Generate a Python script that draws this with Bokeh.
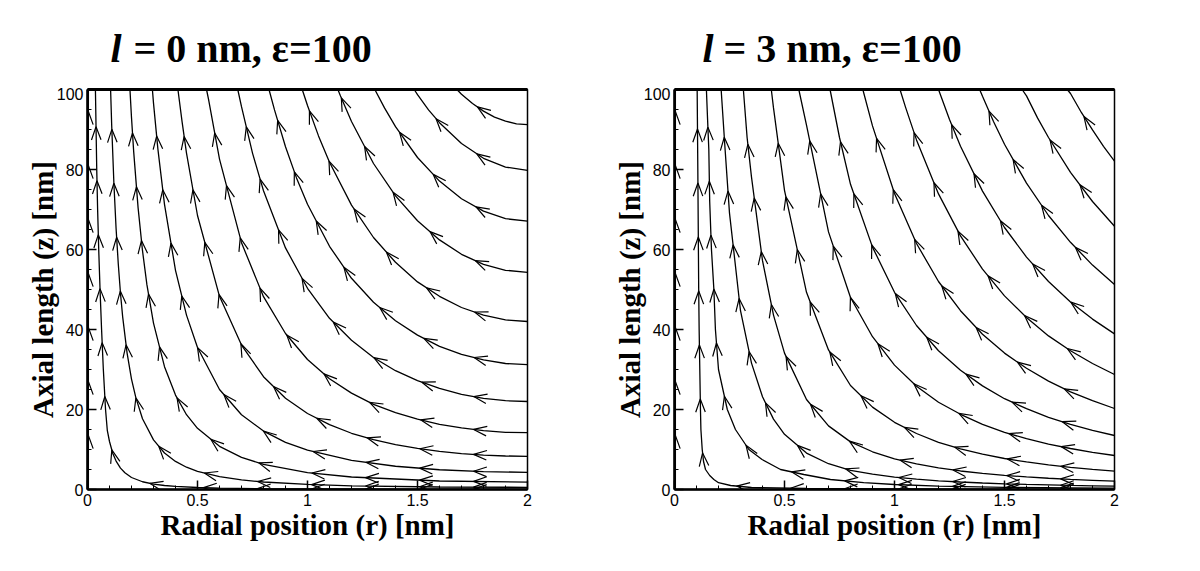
import numpy as np
from bokeh.plotting import figure
from bokeh.models import LinearAxis, FixedTicker, NumeralTickFormatter, Range1d
from bokeh.core.properties import value
from bokeh.layouts import row, column
from bokeh.embed import file_html
from bokeh.resources import INLINE

# ---------------- data ----------------
r_ticks = [0, 0.5, 1, 1.5, 2]
r_minor_ticks = [0.1, 0.2, 0.3, 0.4, 0.6, 0.7, 0.8, 0.9, 1.1, 1.2, 1.3, 1.4, 1.6, 1.7, 1.8, 1.9]
z_ticks = [0, 20, 40, 60, 80, 100]
z_minor_ticks = [5, 10, 15, 25, 30, 35, 45, 50, 55, 65, 70, 75, 85, 90, 95]
slip_lengths = ["0", "3"]
permittivity = "100"
x_label = "Radial position (r) [nm]"
y_label = "Axial length (z) [nm]"

# streamlines of the left panel (l = 0 nm), each listed from its start (wall r=2 / axis bottom) to z=100
left_r = [
    [0.004, 0.004],
    [2.0, 1.5, 1.0, 0.8, 0.6, 0.5, 0.4, 0.35, 0.3, 0.25, 0.2, 0.17, 0.15, 0.13, 0.115, 0.1, 0.09, 0.082, 0.072, 0.064, 0.057, 0.051, 0.046, 0.042, 0.039, 0.036],
    [2.0, 1.6, 1.2, 1.0, 0.8, 0.7, 0.6, 0.5, 0.45, 0.4, 0.35, 0.3, 0.25, 0.22, 0.2, 0.18, 0.16, 0.15, 0.14, 0.13, 0.12, 0.11, 0.105],
    [2.0, 1.6, 1.2, 1.0, 0.8, 0.7, 0.6, 0.5, 0.45, 0.4, 0.35, 0.3, 0.27, 0.25, 0.23, 0.21, 0.2, 0.193],
    [2.0, 1.8, 1.6, 1.4, 1.2, 1.0, 0.9, 0.8, 0.7, 0.6, 0.5, 0.45, 0.4, 0.35, 0.32, 0.3, 0.295],
    [2.0, 1.9, 1.8, 1.7, 1.6, 1.5, 1.4, 1.3, 1.2, 1.1, 1.0, 0.9, 0.8, 0.7, 0.6, 0.5, 0.45, 0.43, 0.411],
    [2.0, 1.9, 1.8, 1.7, 1.6, 1.5, 1.4, 1.3, 1.2, 1.1, 1.0, 0.9, 0.8, 0.7, 0.6, 0.55, 0.541],
    [2.0, 1.9, 1.8, 1.7, 1.6, 1.5, 1.4, 1.3, 1.2, 1.1, 1.0, 0.9, 0.8, 0.75, 0.7, 0.683],
    [2.0, 1.9, 1.8, 1.7, 1.6, 1.5, 1.4, 1.3, 1.2, 1.1, 1.0, 0.95, 0.9, 0.85, 0.825],
    [2.0, 1.9, 1.8, 1.7, 1.6, 1.5, 1.4, 1.3, 1.2, 1.1, 1.05, 1.0, 0.976],
    [2.0, 1.9, 1.8, 1.7, 1.6, 1.5, 1.4, 1.3, 1.2, 1.15, 1.138],
    [2.0, 1.9, 1.8, 1.7, 1.6, 1.5, 1.4, 1.35, 1.306],
    [2.0, 1.9, 1.8, 1.7, 1.6, 1.55, 1.5, 1.485],
    [2.0, 1.95, 1.9, 1.85, 1.8, 1.75, 1.7, 1.679],
]
left_z = [
    [0, 100],
    [0.06, 0.07, 0.14, 0.2, 0.35, 0.5, 0.77, 1.0, 1.35, 1.94, 3.0, 4.2, 5.35, 7.1, 9.0, 12.0, 14.8, 20, 30, 40, 50, 60, 70, 80, 90, 100],
    [0.55, 0.63, 0.93, 1.26, 1.87, 2.39, 3.2, 4.54, 5.57, 7.02, 9.12, 12.4, 17.7, 22.9, 27.6, 34.1, 43.1, 49.0, 56.3, 65.2, 76.5, 91.0, 100],
    [1.85, 2.13, 3.13, 4.23, 6.28, 8.04, 10.8, 15.3, 18.7, 23.6, 30.7, 41.6, 51.2, 59.7, 70.4, 84.4, 93.0, 100],
    [4.3, 4.46, 4.94, 5.81, 7.28, 9.83, 11.8, 14.6, 18.7, 25.0, 35.5, 43.6, 54.8, 71.3, 85.1, 96.6, 100],
    [8.3, 8.38, 8.61, 8.99, 9.54, 10.26, 11.2, 12.45, 14.06, 16.2, 19.0, 22.8, 28.2, 36.1, 48.3, 68.5, 84.1, 91.9, 100],
    [14.2, 14.3, 14.7, 15.4, 16.3, 17.6, 19.2, 21.3, 24.1, 27.7, 32.5, 39.0, 48.2, 61.7, 82.6, 97.6, 100],
    [22.0, 22.2, 22.8, 23.8, 25.3, 27.2, 29.7, 33.0, 37.3, 42.8, 50.3, 60.4, 74.7, 84.1, 95.7, 100],
    [31.2, 31.5, 32.4, 33.8, 35.8, 38.6, 42.2, 46.8, 52.8, 60.8, 71.3, 77.9, 85.7, 94.9, 100],
    [42.0, 42.4, 43.6, 45.5, 48.3, 51.9, 56.8, 63.0, 71.1, 81.8, 88.4, 96.0, 100],
    [54.3, 54.8, 56.3, 58.8, 62.4, 67.2, 73.4, 81.5, 92.0, 98.4, 100],
    [67.1, 67.7, 69.6, 72.7, 77.1, 83.0, 90.7, 95.4, 100],
    [79.8, 80.6, 82.8, 86.5, 91.7, 94.9, 98.7, 100],
    [91.2, 91.4, 92.1, 93.1, 94.6, 96.5, 98.8, 100],
]

# streamlines of the right panel (l = 3 nm)
right_r = [
    [0.004, 0.004],
    [2.0, 1.5, 1.0, 0.6, 0.35, 0.255, 0.2, 0.179, 0.16, 0.141, 0.132, 0.126, 0.12, 0.118, 0.115, 0.112, 0.11, 0.108, 0.106, 0.103],
    [2.0, 1.8, 1.5, 1.2, 1.0, 0.86, 0.709, 0.588, 0.482, 0.398, 0.338, 0.277, 0.24, 0.2, 0.186, 0.179, 0.168, 0.16, 0.156, 0.15, 0.145],
    [2.0, 1.9, 1.8, 1.7, 1.6, 1.5, 1.4, 1.3, 1.2, 1.1, 1.0, 0.9, 0.8, 0.7, 0.6, 0.5, 0.45, 0.4, 0.35, 0.3, 0.25, 0.23, 0.212],
    [2.0, 1.9, 1.8, 1.7, 1.6, 1.5, 1.4, 1.3, 1.2, 1.1, 1.0, 0.9, 0.8, 0.7, 0.6, 0.5, 0.45, 0.4, 0.35, 0.33, 0.313],
    [2.0, 1.9, 1.8, 1.7, 1.6, 1.5, 1.4, 1.3, 1.2, 1.1, 1.0, 0.9, 0.8, 0.7, 0.6, 0.5, 0.45, 0.44],
    [2.0, 1.9, 1.8, 1.7, 1.6, 1.5, 1.4, 1.3, 1.2, 1.1, 1.0, 0.9, 0.8, 0.7, 0.6, 0.565],
    [2.0, 1.9, 1.8, 1.7, 1.6, 1.5, 1.4, 1.3, 1.2, 1.1, 1.0, 0.9, 0.8, 0.75, 0.707],
    [2.0, 1.9, 1.8, 1.7, 1.6, 1.5, 1.4, 1.3, 1.2, 1.1, 1.0, 0.9, 0.856],
    [2.0, 1.9, 1.8, 1.7, 1.6, 1.5, 1.4, 1.3, 1.2, 1.1, 1.05, 1.025],
    [2.0, 1.9, 1.8, 1.7, 1.6, 1.5, 1.4, 1.3, 1.25, 1.2],
    [2.0, 1.9, 1.8, 1.7, 1.6, 1.5, 1.45, 1.4, 1.387],
    [2.0, 1.9, 1.8, 1.7, 1.65, 1.6, 1.58],
    [2.0, 1.95, 1.9, 1.85, 1.8, 1.785],
]
right_z = [
    [0, 100],
    [0.05, 0.07, 0.12, 0.25, 0.5, 1.0, 1.7, 2.5, 3.5, 5.0, 7.0, 10, 15, 20, 30, 40, 50, 65, 80, 100],
    [0.33, 0.4, 0.55, 0.85, 1.25, 1.7, 2.5, 3.75, 5.0, 7.5, 10, 15, 20, 30, 40, 50, 60, 72, 85, 93, 100],
    [0.85, 0.93, 1.02, 1.14, 1.27, 1.43, 1.63, 1.88, 2.18, 2.58, 3.11, 3.82, 4.8, 6.44, 9.1, 13.8, 17.6, 23.2, 31.6, 44.7, 69.1, 85.0, 100],
    [2.1, 2.3, 2.53, 2.81, 3.14, 3.54, 4.03, 4.63, 5.40, 6.38, 7.68, 9.43, 11.9, 15.9, 22.5, 34.1, 43.6, 57.2, 78.1, 88.0, 100],
    [4.6, 5.03, 5.55, 6.15, 6.88, 7.75, 8.82, 10.15, 11.8, 14.0, 16.8, 20.6, 26.0, 34.9, 49.3, 74.8, 95.4, 100],
    [8.5, 9.3, 10.25, 11.37, 12.7, 14.3, 16.3, 18.8, 21.8, 25.8, 31.1, 38.2, 48.0, 64.4, 91.1, 100],
    [13.5, 14.8, 16.3, 18.05, 20.2, 22.7, 25.9, 29.8, 34.7, 41.0, 49.3, 60.6, 76.3, 88.0, 100],
    [20.25, 22.2, 24.4, 27.1, 30.3, 34.1, 38.8, 44.7, 52.0, 61.5, 74.0, 90.9, 100],
    [28.75, 31.5, 34.7, 38.4, 43.0, 48.4, 55.1, 63.4, 73.9, 87.4, 95.6, 100],
    [38.9, 42.6, 46.9, 52.0, 58.1, 65.5, 74.6, 85.8, 92.5, 100],
    [51.25, 56.1, 61.8, 68.5, 76.6, 86.3, 92.0, 98.3, 100],
    [65.8, 72.0, 79.3, 88.0, 92.9, 98.4, 100],
    [82.1, 85.8, 89.9, 94.2, 99.0, 100],
]

# ---------------- layout constants ----------------
FW, FH = 440, 400
SX = FW / (r_ticks[-1] - r_ticks[0])
SY = FH / (z_ticks[-1] - z_ticks[0])
TITLE_H = 87


def arrowheads(rs, zs, spacing=54.0, length=14.0, half_angle=20.0):
    """Open V arrowheads placed along a streamline, every `spacing` screen pixels."""
    px = np.asarray(rs, float) * SX
    py = np.asarray(zs, float) * SY
    dx, dy = np.diff(px), np.diff(py)
    seg = np.hypot(dx, dy)
    cum = np.concatenate([[0.0], np.cumsum(seg)])
    total = cum[-1]
    a = np.radians(half_angle)
    ca, sa = np.cos(a), np.sin(a)
    hx, hy = [], []
    s = spacing
    while s < total - 6:
        i = int(np.searchsorted(cum, s, side="right") - 1)
        i = max(0, min(i, len(seg) - 1))
        if seg[i] <= 1e-9:
            s += spacing
            continue
        t = (s - cum[i]) / seg[i]
        tx, ty = px[i] + t * dx[i], py[i] + t * dy[i]
        ux, uy = -dx[i] / seg[i], -dy[i] / seg[i]
        x1 = tx + length * (ux * ca - uy * sa)
        y1 = ty + length * (ux * sa + uy * ca)
        x2 = tx + length * (ux * ca + uy * sa)
        y2 = ty + length * (-ux * sa + uy * ca)
        hx.append([x1 / SX, tx / SX, x2 / SX])
        hy.append([y1 / SY, ty / SY, y2 / SY])
        s += spacing
    return hx, hy


def make_title(slip, border_left, border_right, l_x, eq_x):
    """A strip above the panel, frame-aligned with it, holding the mixed-style title (pixel units)."""
    t = figure(frame_width=FW, frame_height=TITLE_H,
               x_range=Range1d(0, FW), y_range=Range1d(0, TITLE_H),
               x_axis_location=None, y_axis_location=None, title=None,
               min_border=0, min_border_left=border_left, min_border_right=border_right,
               output_backend="svg", toolbar_location=None)
    t.grid.visible = False
    t.outline_line_color = None
    t.background_fill_color = "white"
    t.border_fill_color = "white"
    base_y = 39
    t.text(x=[l_x], y=[base_y], text=["l"], text_font=value("Liberation Serif"),
           text_font_style="bold italic", text_font_size="40px", text_color="black",
           text_align="left", text_baseline="alphabetic")
    t.text(x=[eq_x], y=[base_y], text=["= " + slip + " nm, ε=" + permittivity],
           text_font=value("Liberation Serif"), text_font_style="bold", text_font_size="40px",
           text_color="black", text_align="left", text_baseline="alphabetic")
    return t


def make_panel(stream_r, stream_z, border_left, border_right):
    p = figure(frame_width=FW, frame_height=FH,
               x_range=Range1d(r_ticks[0], r_ticks[-1]), y_range=Range1d(z_ticks[0], z_ticks[-1]),
               output_backend="svg", toolbar_location=None,
               min_border_left=border_left, min_border_right=border_right,
               min_border_top=2, min_border_bottom=74)
    p.grid.visible = False
    p.outline_line_color = "black"
    p.outline_line_width = 1.5
    p.background_fill_color = "white"
    p.border_fill_color = "white"

    p.multi_line(stream_r, stream_z, line_color="black", line_width=1.3)
    hx, hy = [], []
    for rs, zs in zip(stream_r, stream_z):
        ax, ay = arrowheads(rs, zs)
        hx += ax
        hy += ay
    p.multi_line(hx, hy, line_color="black", line_width=1.2)

    # axes
    p.xaxis.ticker = FixedTicker(ticks=r_ticks, minor_ticks=r_minor_ticks)
    p.yaxis.ticker = FixedTicker(ticks=z_ticks, minor_ticks=z_minor_ticks)
    p.xaxis.formatter = NumeralTickFormatter(format="0.[0]")
    for ax in (p.xaxis[0], p.yaxis[0]):
        ax.axis_line_width = 2.5
        ax.axis_line_color = "black"
        ax.major_tick_in = 9
        ax.major_tick_out = 0
        ax.minor_tick_in = 4
        ax.minor_tick_out = 0
        ax.major_tick_line_width = 1.5
        ax.major_tick_line_color = "black"
        ax.minor_tick_line_color = "black"
        ax.major_label_text_font = "Liberation Sans"
        ax.major_label_text_font_size = "16px"
        ax.major_label_text_color = "black"
        ax.major_label_standoff = 4
        ax.axis_label_text_font = "Liberation Serif"
        ax.axis_label_text_font_style = "bold"
        ax.axis_label_text_font_size = "29px"
        ax.axis_label_text_color = "black"
    p.xaxis.axis_label_standoff = 0
    p.yaxis.axis_label_standoff = -5
    p.xaxis.axis_label = x_label
    p.yaxis.axis_label = y_label

    top = LinearAxis(ticker=FixedTicker(ticks=[]), major_label_text_font_size="0px",
                     major_label_standoff=0, axis_line_width=3, axis_line_color="black",
                     major_tick_in=0, major_tick_out=0, minor_tick_in=0, minor_tick_out=0)
    p.add_layout(top, "above")
    return p


left_panel = column(make_title(slip_lengths[0], 87, 68, 23, 46), make_panel(left_r, left_z, 87, 68))
right_panel = column(make_title(slip_lengths[1], 79, 78, 28, 49), make_panel(right_r, right_z, 79, 78))
layout = row(left_panel, right_panel)

html = file_html(layout, INLINE, title="Streamlines")
with open("out.html", "w", encoding="utf-8") as f:
    f.write(html)
